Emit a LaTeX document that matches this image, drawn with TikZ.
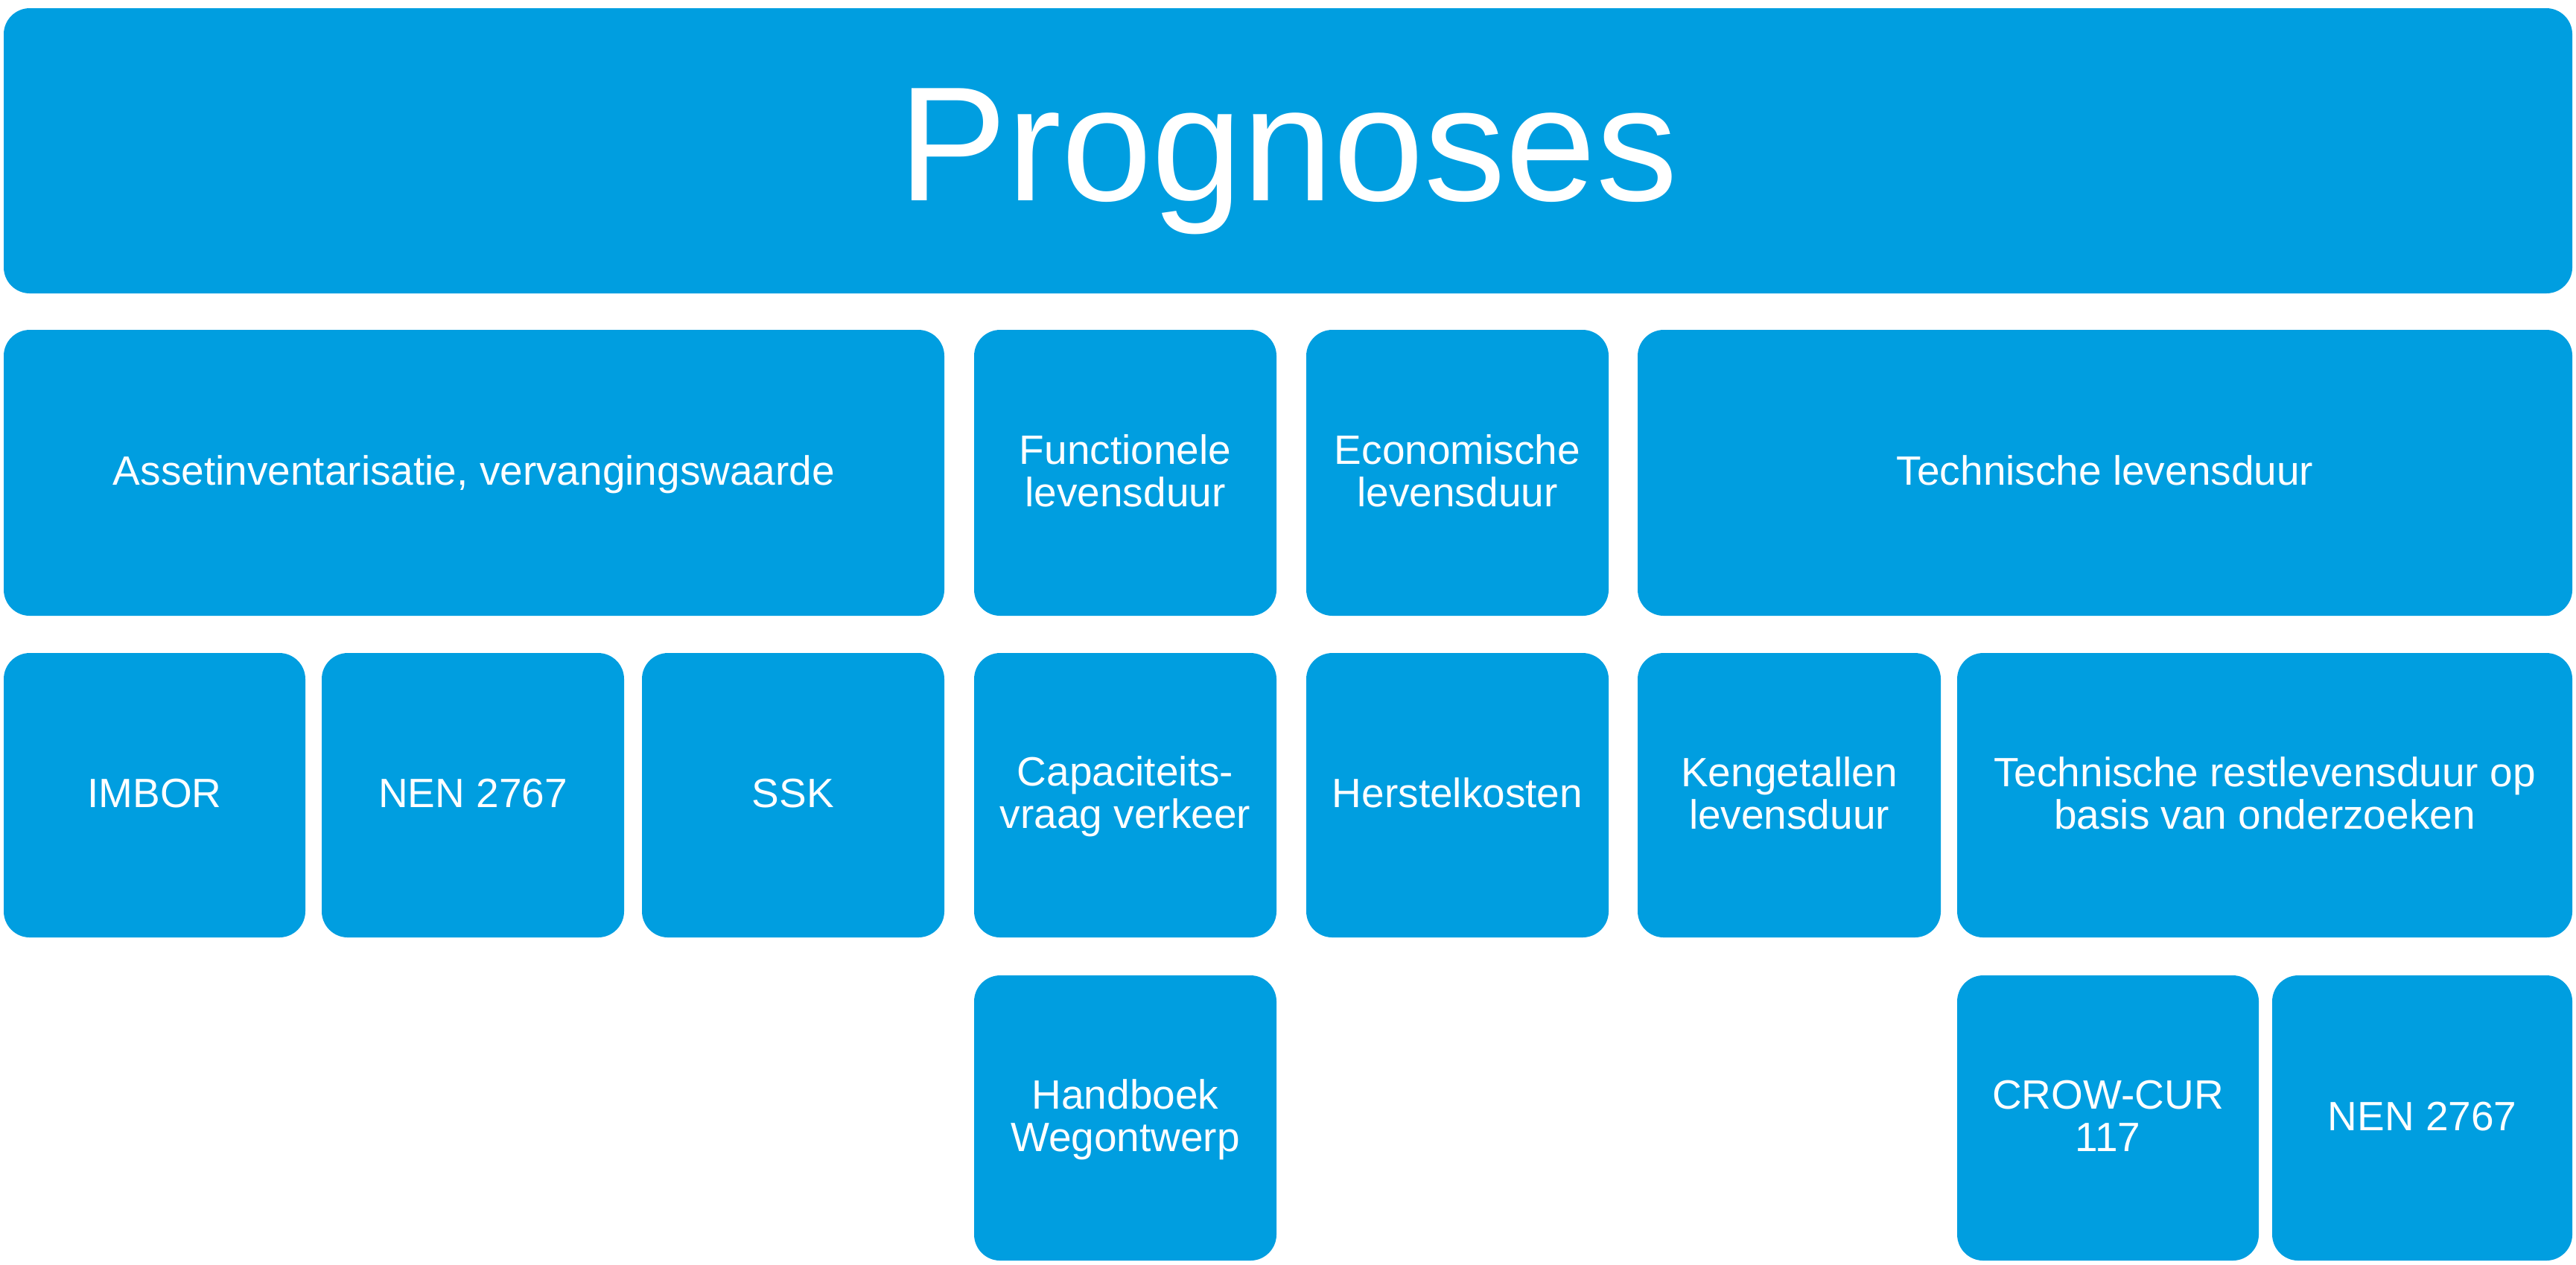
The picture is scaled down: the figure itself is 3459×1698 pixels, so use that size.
\documentclass[tikz,border=0pt]{standalone}
\usepackage{fontspec}
\setmainfont{Liberation Sans}
\definecolor{boxblue}{RGB}{0,158,224}
\newcommand\mystrut{\rule[-0.2em]{0pt}{1em}}
\newcommand\bigstrut{\rule[-0.18em]{0pt}{1em}}
\begin{document}
\begin{tikzpicture}[x=0.2pt,y=-0.2pt,
  box/.style={fill=boxblue, draw=none, rounded corners=7pt, inner sep=0pt,
    text=white, align=center, font=\fontsize{11pt}{11.4pt}\selectfont},
  wh/.style 2 args={minimum width=#1*0.2pt, minimum height=#2*0.2pt}]
\useasboundingbox (0,0) rectangle (3459,1698);
% title
\node[box, wh={3449}{383}, font=\fontsize{43.8pt}{48pt}\selectfont] (prog) at (1729.5,202.5) {\bigstrut Prognoses};
% row 2
\node[box, wh={1263}{384}] (asset) at (636.5,635) {\mystrut Assetinventarisatie, vervangingswaarde};
\node[box, wh={406}{384}] (func) at (1511,635) {\mystrut Functionele\\\mystrut levensduur};
\node[box, wh={406}{384}] (econ) at (1957,635) {\mystrut Economische\\\mystrut levensduur};
\node[box, wh={1255}{384}] (tech) at (2826.5,635) {\mystrut Technische levensduur};
% row 3
\node[box, wh={405}{382}] (imbor) at (207.5,1068) {\mystrut IMBOR};
\node[box, wh={406}{382}] (nena) at (635,1068) {\mystrut NEN 2767};
\node[box, wh={406}{382}] (ssk) at (1065,1068) {\mystrut SSK};
\node[box, wh={406}{382}] (cap) at (1511,1068) {\mystrut Capaciteits-\\\mystrut vraag verkeer};
\node[box, wh={406}{382}] (herst) at (1957,1068) {\mystrut Herstelkosten};
\node[box, wh={407}{382}] (keng) at (2402.5,1068) {\mystrut Kengetallen\\\mystrut levensduur};
\node[box, wh={826}{382}] (trest) at (3041,1068) {\mystrut Technische restlevensduur op\\\mystrut basis van onderzoeken};
% row 4
\node[box, wh={406}{383}] (hand) at (1511,1501.5) {\mystrut Handboek\\\mystrut Wegontwerp};
\node[box, wh={405}{383}] (crow) at (2830.5,1501.5) {\mystrut CROW-CUR\\\mystrut 117};
\node[box, wh={403}{383}] (nenb) at (3252.5,1501.5) {\mystrut NEN 2767};
\end{tikzpicture}
\end{document}
